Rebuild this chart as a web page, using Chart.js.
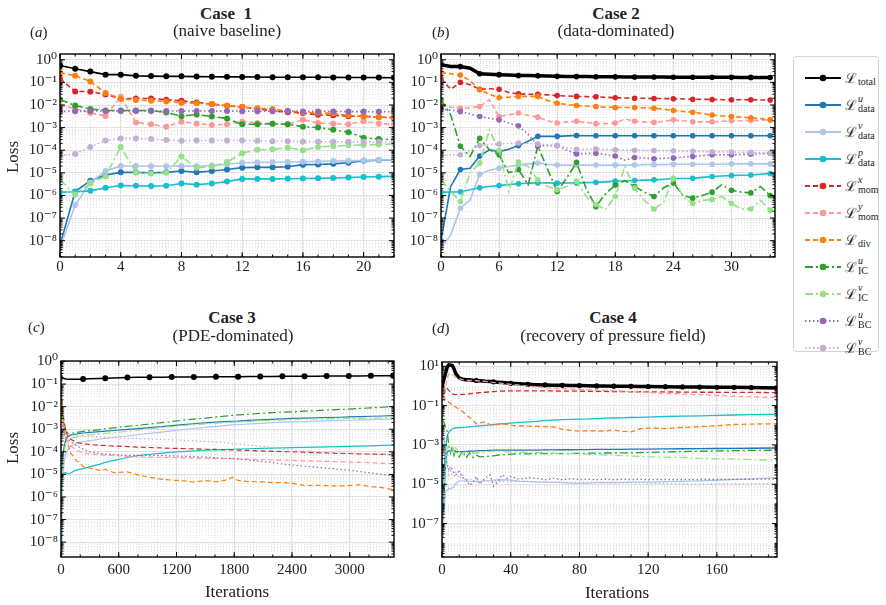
<!DOCTYPE html>
<html>
<head>
<meta charset="utf-8">
<script src="https://cdn.jsdelivr.net/npm/chart.js@4.4.1/dist/chart.umd.min.js"></script>
<style>
body{margin:0;background:#fff;font-family:"Liberation Serif","DejaVu Serif",serif;color:#222}
#wrap{position:relative;width:886px;height:605px;overflow:hidden}
canvas{position:absolute}
.t{position:absolute;white-space:nowrap;transform:translate(-50%,-50%);font-size:17px}
.b{font-weight:bold}
.pl{position:absolute;white-space:nowrap;transform:translateY(-50%);font-size:15px}
.yl{position:absolute;white-space:nowrap;font-size:17px;transform:translate(-50%,-50%) rotate(-90deg)}
#legend{position:absolute;left:793px;top:56px;width:86px;height:296px;border:1px solid #d4d4d4;border-radius:4px;box-sizing:border-box}
.row{position:absolute;left:0;height:26px;width:86px}
.row svg{position:absolute;left:10px;top:7px}
.row .lb{position:absolute;left:51px;top:2px;white-space:nowrap}
.L{font-family:"DejaVu Serif",serif;font-size:14px;vertical-align:middle}
.ss{display:inline-block;vertical-align:middle;font-size:10px;line-height:10px;margin-left:1px}
.ss i,.ss span{display:block}
</style>
</head>
<body>
<div id="wrap">
  <canvas id="ca" width="400" height="245" style="left:0;top:40px"></canvas>
  <canvas id="cb" width="385" height="245" style="left:400px;top:40px"></canvas>
  <canvas id="cc" width="400" height="250" style="left:0;top:340px"></canvas>
  <canvas id="cd" width="385" height="250" style="left:400px;top:340px"></canvas>

  <div class="t b" style="left:226px;top:14px">Case&nbsp; 1</div>
  <div class="t" style="left:227px;top:31px">(naive baseline)</div>
  <div class="pl" style="left:30px;top:32px">(<i>a</i>)</div>

  <div class="t b" style="left:616px;top:14px">Case 2</div>
  <div class="t" style="left:616px;top:31px">(data-dominated)</div>
  <div class="pl" style="left:432px;top:32px">(<i>b</i>)</div>

  <div class="t b" style="left:232px;top:318px">Case 3</div>
  <div class="t" style="left:233px;top:336px">(PDE-dominated)</div>
  <div class="pl" style="left:28px;top:327px">(<i>c</i>)</div>

  <div class="t b" style="left:613px;top:318px">Case 4</div>
  <div class="t" style="left:613px;top:336px">(recovery of pressure field)</div>
  <div class="pl" style="left:432px;top:328px">(<i>d</i>)</div>

  <div class="yl" style="left:13px;top:157px">Loss</div>
  <div class="yl" style="left:13px;top:448px">Loss</div>
  <div class="t" style="left:237px;top:592px">Iterations</div>
  <div class="t" style="left:617px;top:593px">Iterations</div>

  <div id="legend"></div>
</div>
<script>
// series keys, in plotting order
const keys = ['total','u_data','v_data','p_data','x_mom','y_mom','div','u_ic','v_ic','u_bc','v_bc']
const legendSup = ['', 'u', 'v', 'p', 'x', 'y', '', 'u', 'v', 'u', 'v']
const legendSub = ['total','data','data','data','mom','mom','div','IC','IC','BC','BC']
const colors = ['#000000','#1f77b4','#aec7e8','#17becf','#d62728','#ff9896','#ff7f0e','#2ca02c','#98df8a','#9467bd','#c5b0d5']
const dashes = [[],[],[],[],[5,3],[5,3],[5,3],[8,3,2,3],[8,3,2,3],[1.5,2.5],[1.5,2.5]]

/* Case 1 */
const a_iter = [0,1,2,3,4,5,6,7,8,9,10,11,12,13,14,15,16,17,18,19,20,21,22]
const a_total = [0.56,0.40,0.30,0.22,0.22,0.195,0.19,0.185,0.185,0.18,0.178,0.176,0.175,0.172,0.17,0.17,0.168,0.168,0.166,0.165,0.165,0.163,0.16]
const a_u_data = [6.5e-9,1.5e-6,4.5e-6,8e-6,1.05e-5,1.05e-5,1.0e-5,1.05e-5,1.2e-5,1.05e-5,1.2e-5,1.4e-5,1.7e-5,1.75e-5,1.75e-5,1.85e-5,2.3e-5,2.35e-5,2.5e-5,2.8e-5,3.4e-5,3.6e-5,3.8e-5]
const a_v_data = [4.7e-9,3.8e-7,3.7e-6,1.2e-5,2.0e-5,2.0e-5,1.95e-5,1.95e-5,2.0e-5,1.95e-5,2.1e-5,2.4e-5,2.8e-5,2.9e-5,2.95e-5,3.0e-5,3.1e-5,3.2e-5,3.3e-5,3.4e-5,3.5e-5,3.7e-5,3.8e-5]
const a_p_data = [1.4e-6,1.45e-6,1.6e-6,2.2e-6,2.75e-6,2.7e-6,2.6e-6,2.7e-6,3.4e-6,3.0e-6,3.4e-6,4.1e-6,5.4e-6,5.4e-6,5.4e-6,5.5e-6,5.6e-6,5.7e-6,5.9e-6,6.2e-6,6.6e-6,6.8e-6,7.0e-6]
const a_x_mom = [0.145,0.04,0.039,0.029,0.0195,0.0195,0.0195,0.017,0.0154,0.013,0.011,0.0093,0.0081,0.0068,0.0055,0.0048,0.0044,0.0037,0.0035,0.0032,0.0032,0.0029,0.0027]
const a_y_mom = [0.0093,0.0072,0.0044,0.0033,0.023,0.0017,0.0014,0.0011,0.0018,0.0015,0.0013,0.0014,0.0018,0.0016,0.0015,0.0014,0.0022,0.0016,0.0015,0.0014,0.0019,0.0015,0.0014]
const a_div = [0.27,0.195,0.11,0.034,0.019,0.0165,0.0154,0.0144,0.0125,0.012,0.011,0.0093,0.0081,0.0072,0.0066,0.0055,0.0048,0.0045,0.0042,0.0035,0.0031,0.0029,0.0028]
const a_u_ic = [0.017,0.0095,0.0066,0.0057,0.0057,0.0057,0.0057,0.0047,0.0032,0.0038,0.0031,0.0025,0.0014,0.0014,0.0015,0.0014,0.0011,0.001,0.0008,0.00063,0.00036,0.00031,0.00029]
const a_v_ic = [4.9e-6,1.1e-6,3.4e-6,6.9e-6,1.4e-4,1.07e-5,9.3e-6,1.0e-5,5.3e-5,1.7e-5,1.9e-5,3.0e-5,7.4e-5,1.05e-4,1.1e-4,1.3e-4,1.0e-4,1.4e-4,1.5e-4,1.65e-4,1.7e-4,1.8e-4,1.9e-4]
const a_u_bc = [0.0052,0.0053,0.0054,0.0054,0.0054,0.0054,0.0054,0.0054,0.0054,0.0054,0.0054,0.0054,0.0053,0.0053,0.0053,0.0053,0.0052,0.0052,0.0052,0.0051,0.0051,0.005,0.005]
const a_v_bc = [5.9e-5,6.9e-5,1.4e-4,2.7e-4,3.3e-4,3.3e-4,3.1e-4,2.8e-4,2.6e-4,2.7e-4,2.7e-4,2.7e-4,2.7e-4,2.6e-4,2.5e-4,2.5e-4,2.4e-4,2.4e-4,2.35e-4,2.35e-4,2.35e-4,2.35e-4,2.3e-4]

/* Case 2 */
const b_iter = [0,1,2,3,4,5,6,7,8,9,10,11,12,13,14,15,16,17,18,19,20,21,22,23,24,25,26,27,28,29,30,31,32,33,34]
const b_total = [0.6,0.5,0.5,0.42,0.24,0.23,0.22,0.21,0.2,0.2,0.195,0.19,0.185,0.183,0.18,0.18,0.178,0.177,0.176,0.175,0.174,0.173,0.172,0.171,0.17,0.17,0.169,0.168,0.168,0.167,0.167,0.166,0.166,0.165,0.165]
const b_u_data = [1e-8,2.5e-6,1.4e-5,1.6e-5,5.6e-5,1.05e-4,8.7e-5,1.1e-4,1.6e-4,2.5e-4,4.1e-4,4.1e-4,4.1e-4,4.3e-4,4.5e-4,4.4e-4,4.4e-4,4.4e-4,4.4e-4,4.4e-4,4.4e-4,4.4e-4,4.4e-4,4.4e-4,4.4e-4,4.4e-4,4.4e-4,4.4e-4,4.4e-4,4.4e-4,4.4e-4,4.4e-4,4.4e-4,4.4e-4,4.4e-4]
const b_v_data = [4.7e-9,1.8e-8,2.7e-7,6.3e-7,8.7e-6,1.3e-5,1.6e-5,1.9e-5,2.2e-5,2.5e-5,2.7e-5,2.4e-5,2.2e-5,2.2e-5,2.2e-5,2.2e-5,2.2e-5,2.2e-5,2.2e-5,2.2e-5,2.2e-5,2.3e-5,2.3e-5,2.3e-5,2.4e-5,2.4e-5,2.4e-5,2.4e-5,2.4e-5,2.4e-5,2.5e-5,2.5e-5,2.5e-5,2.5e-5,2.5e-5]
const b_p_data = [1.4e-6,1.4e-6,1.45e-6,1.8e-6,2.2e-6,2.5e-6,2.75e-6,3e-6,3.3e-6,3.5e-6,3.6e-6,3.6e-6,3.5e-6,3.55e-6,3.6e-6,3.7e-6,3.8e-6,4e-6,4.3e-6,4.45e-6,4.6e-6,4.75e-6,4.9e-6,5.2e-6,5.6e-6,5.6e-6,5.7e-6,6.3e-6,6.9e-6,7.3e-6,7.6e-6,7.8e-6,8e-6,8.7e-6,9.3e-6]
const b_x_mom = [0.145,0.05,0.1,0.078,0.05,0.052,0.05,0.036,0.031,0.03,0.03,0.028,0.026,0.025,0.024,0.0235,0.023,0.022,0.021,0.0205,0.02,0.0198,0.0195,0.0192,0.019,0.0185,0.018,0.0178,0.0175,0.0172,0.017,0.017,0.017,0.0167,0.0165]
const b_y_mom = [0.0093,0.008,0.0072,0.0075,0.0086,0.017,0.0031,0.0037,0.0044,0.0035,0.0029,0.002,0.0016,0.0018,0.0019,0.0017,0.0015,0.0015,0.0016,0.0024,0.0019,0.0018,0.0017,0.0019,0.0022,0.002,0.0018,0.0018,0.0018,0.0019,0.002,0.002,0.0021,0.0021,0.0022]
const b_div = [0.27,0.24,0.21,0.12,0.047,0.03,0.021,0.022,0.024,0.024,0.024,0.016,0.012,0.0105,0.0095,0.009,0.0086,0.008,0.0078,0.0078,0.0078,0.0075,0.0072,0.0065,0.0057,0.0052,0.0048,0.0042,0.0036,0.0033,0.0031,0.0029,0.0027,0.0025,0.0022]
const b_u_ic = [0.017,0.0037,1.5e-4,5.3e-5,3.4e-4,1.05e-4,6.3e-5,1e-5,1.4e-5,3e-6,1.5e-4,1.5e-5,1.5e-6,6e-6,2.9e-5,2e-6,3.2e-7,1.2e-6,2.9e-6,4.5e-6,2.5e-6,1.4e-6,9e-7,2.2e-6,3.6e-6,1e-6,7.6e-7,1e-6,1.4e-6,3e-6,1.7e-6,1.4e-6,1.3e-6,2.5e-6,1e-6]
const b_v_ic = [4.9e-6,1.5e-6,5.4e-7,1e-5,2.7e-5,7.9e-4,1e-4,1.5e-6,3e-5,1.9e-5,4.9e-6,2.5e-6,1.8e-6,2.5e-6,4.3e-6,9e-7,4e-7,2.4e-7,9e-7,1.9e-5,2.1e-6,6e-7,2.5e-7,5e-7,5.6e-6,9e-7,4.4e-7,6e-7,6.6e-7,9e-7,4.4e-7,2.5e-7,2.5e-7,6e-7,2.2e-7]
const b_u_bc = [0.0066,0.006,0.0052,0.004,0.0031,0.0026,0.0022,0.0016,0.0012,0.0005,1.6e-4,1.6e-4,1.6e-4,1.0e-4,6.9e-5,7.2e-5,7.4e-5,6.5e-5,5.6e-5,3.6e-5,4.8e-5,4.5e-5,4.2e-5,4.4e-5,4.5e-5,5e-5,5.3e-5,5.8e-5,6.3e-5,6.3e-5,6.3e-5,6.5e-5,6.7e-5,7e-5,7.4e-5]
const b_v_bc = [5.9e-5,6e-5,6.3e-5,1e-4,1.6e-4,1.8e-4,1.9e-4,2e-4,2.1e-4,2e-4,1.9e-4,1.75e-4,1.6e-4,1.3e-4,1.1e-4,1.12e-4,1.15e-4,1.1e-4,1.05e-4,1.02e-4,1e-4,9.8e-5,9.7e-5,9.6e-5,9.5e-5,9.2e-5,9e-5,8.8e-5,8.6e-5,8.4e-5,8.3e-5,8.1e-5,8e-5,7.7e-5,7.4e-5]

/* Case 3 */
const c_iter = [0,5,10,20,30,50,75,100,150,200,230,300,400,460,550,690,800,920,1050,1150,1300,1380,1500,1610,1700,1780,1840,1950,2070,2200,2300,2400,2530,2650,2760,2900,2990,3100,3220,3335,3450]
const c_total = [0.25,0.22,0.2,0.185,0.175,0.168,0.165,0.164,0.164,0.165,0.167,0.17,0.176,0.18,0.186,0.195,0.198,0.2,0.202,0.204,0.206,0.207,0.208,0.21,0.211,0.212,0.213,0.214,0.216,0.218,0.219,0.22,0.222,0.224,0.225,0.227,0.228,0.23,0.231,0.232,0.234]
const c_u_data = [5e-9,1e-6,1e-5,6e-5,1.5e-4,3.5e-4,4.8e-4,5.5e-4,6e-4,6.5e-4,6.8e-4,7.2e-4,7.8e-4,8.2e-4,8.8e-4,9.8e-4,1.07e-3,1.17e-3,1.3e-3,1.45e-3,1.65e-3,1.75e-3,1.9e-3,2.05e-3,2.15e-3,2.25e-3,2.3e-3,2.45e-3,2.6e-3,2.75e-3,2.85e-3,3e-3,3.1e-3,3.2e-3,3.3e-3,3.4e-3,3.5e-3,3.6e-3,3.75e-3,3.85e-3,4e-3]
const c_v_data = [3e-9,5e-8,1e-6,1e-5,3e-5,8e-5,1.3e-4,1.8e-4,2.3e-4,2.6e-4,2.8e-4,3.1e-4,3.6e-4,3.9e-4,4.3e-4,5e-4,5.7e-4,6.5e-4,7.5e-4,8.5e-4,1e-3,1.08e-3,1.2e-3,1.35e-3,1.45e-3,1.55e-3,1.6e-3,1.7e-3,1.8e-3,1.95e-3,2.05e-3,2.1e-3,2.2e-3,2.3e-3,2.4e-3,2.45e-3,2.5e-3,2.6e-3,2.65e-3,2.7e-3,2.8e-3]
const c_p_data = [2.4e-6,5e-6,8e-6,1.1e-5,1.15e-5,1.2e-5,1.05e-5,1.15e-5,1.5e-5,1.7e-5,1.8e-5,2.2e-5,2.8e-5,3.4e-5,4.2e-5,5.6e-5,6.8e-5,7.8e-5,8.8e-5,9.6e-5,1.05e-4,1.1e-4,1.17e-4,1.22e-4,1.26e-4,1.3e-4,1.33e-4,1.37e-4,1.42e-4,1.47e-4,1.5e-4,1.52e-4,1.56e-4,1.6e-4,1.64e-4,1.7e-4,1.75e-4,1.8e-4,1.85e-4,1.92e-4,2e-4]
const c_x_mom = [0.1,0.05,0.02,6e-3,2.5e-3,8e-4,4.7e-4,3.6e-4,2.8e-4,2.4e-4,2.3e-4,2.1e-4,1.95e-4,1.9e-4,1.8e-4,1.7e-4,1.62e-4,1.55e-4,1.48e-4,1.43e-4,1.38e-4,1.35e-4,1.3e-4,1.27e-4,1.24e-4,1.22e-4,1.2e-4,1.15e-4,1.1e-4,1.05e-4,1.02e-4,1e-4,9.6e-5,9.2e-5,8.9e-5,8.5e-5,8.4e-5,8.1e-5,7.9e-5,7.7e-5,7.5e-5]
const c_y_mom = [0.02,0.01,5e-3,2e-3,8e-4,3.5e-4,2.5e-4,1.8e-4,1.3e-4,1e-4,9e-5,8e-5,7.5e-5,7.2e-5,6.8e-5,6.3e-5,6e-5,5.8e-5,5.7e-5,5.6e-5,5.4e-5,5.3e-5,5.2e-5,5.1e-5,5e-5,4.9e-5,4.8e-5,4.7e-5,4.5e-5,4.4e-5,4.3e-5,4.2e-5,4e-5,3.9e-5,3.8e-5,3.6e-5,3.5e-5,3.4e-5,3.3e-5,3.1e-5,3e-5]
const c_div = [0.3,0.05,0.01,2.5e-3,1e-3,4e-4,2e-4,9e-5,4.5e-5,3e-5,2.2e-5,1.9e-5,1.5e-5,1.65e-5,1.2e-5,1.3e-5,9.5e-6,7.5e-6,6e-6,5.6e-6,5e-6,4.6e-6,5.3e-6,4.7e-6,5.4e-6,7.5e-6,5.4e-6,4.8e-6,4.7e-6,4.3e-6,4.4e-6,4.1e-6,3.2e-6,3.3e-6,3.2e-6,3.1e-6,3.2e-6,3.5e-6,2.9e-6,2.6e-6,2.1e-6]
const c_u_ic = [0.03,0.02,0.01,0.004,0.002,8e-4,6.5e-4,6.5e-4,7e-4,7.7e-4,8e-4,8.7e-4,9.6e-4,1.05e-3,1.15e-3,1.35e-3,1.5e-3,1.7e-3,1.95e-3,2.2e-3,2.6e-3,2.8e-3,3.1e-3,3.5e-3,3.8e-3,4.1e-3,4.3e-3,4.6e-3,5e-3,5.4e-3,5.7e-3,5.9e-3,6.3e-3,6.7e-3,7.1e-3,7.5e-3,7.8e-3,8.3e-3,8.8e-3,9.4e-3,1e-2]
const c_v_ic = [3e-8,5e-7,3e-6,2e-5,8e-5,2.3e-4,3.5e-4,4e-4,4.5e-4,5e-4,5.3e-4,5.6e-4,6.2e-4,6.5e-4,7e-4,8e-4,9.3e-4,1.05e-3,1.2e-3,1.3e-3,1.5e-3,1.6e-3,1.72e-3,1.85e-3,1.95e-3,2.05e-3,2.1e-3,2.2e-3,2.35e-3,2.5e-3,2.6e-3,2.7e-3,2.8e-3,2.85e-3,2.9e-3,3e-3,3e-3,3.05e-3,3.1e-3,3.15e-3,3.2e-3]
const c_u_bc = [5e-3,3e-3,2e-3,1.2e-3,8e-4,5e-4,3.5e-4,2.8e-4,2e-4,1.5e-4,1.3e-4,1e-4,8.5e-5,8e-5,7.5e-5,7e-5,7e-5,7e-5,6.8e-5,6.6e-5,6.3e-5,6.1e-5,5.8e-5,5.5e-5,5.2e-5,5e-5,4.8e-5,4.3e-5,3.8e-5,3.3e-5,2.9e-5,2.6e-5,2.3e-5,2.1e-5,1.9e-5,1.65e-5,1.55e-5,1.35e-5,1.15e-5,1e-5,8.7e-6]
const c_v_bc = [1e-3,1.2e-3,1.3e-3,1.2e-3,1e-3,8e-4,6.5e-4,6e-4,5.5e-4,5e-4,4.9e-4,4.7e-4,4.5e-4,4.4e-4,4.2e-4,4e-4,3.9e-4,3.7e-4,3.5e-4,3.4e-4,3.2e-4,3.1e-4,2.9e-4,2.7e-4,2.5e-4,2.3e-4,2.2e-4,2e-4,1.8e-4,1.55e-4,1.35e-4,1.2e-4,1.1e-4,1e-4,9.5e-5,9e-5,8.8e-5,8.4e-5,8e-5,7.8e-5,7.6e-5]

/* Case 4 */
const d_iter = [0,1,2,3,4,5,6,7,8,10,12,14,16,18,20,22,25,28,30,32,35,38,40,45,50,55,60,65,70,75,80,85,90,95,100,105,110,115,120,130,140,150,160,170,180,195]
const d_total = [0.9,2,4.2,9,12,11.5,11,7.6,4.2,2.6,2.2,2.1,2.05,1.95,1.9,1.85,1.75,1.68,1.62,1.57,1.5,1.42,1.38,1.3,1.22,1.17,1.13,1.1,1.08,1.06,1.05,1.03,1.01,1.0,0.98,0.97,0.96,0.95,0.94,0.92,0.9,0.88,0.86,0.85,0.83,0.8]
const d_u_data = [6e-9,8e-7,1e-4,4.4e-4,5e-4,5.2e-4,5.2e-4,5e-4,4.8e-4,4.6e-4,4.6e-4,4.7e-4,4.8e-4,4.9e-4,5e-4,5.1e-4,5.2e-4,5.3e-4,5.4e-4,5.4e-4,5.4e-4,5.4e-4,5.4e-4,5.5e-4,5.5e-4,5.5e-4,5.6e-4,5.6e-4,5.7e-4,5.7e-4,5.8e-4,5.8e-4,5.9e-4,5.9e-4,6e-4,6e-4,6.1e-4,6.1e-4,6.2e-4,6.3e-4,6.4e-4,6.5e-4,6.6e-4,6.7e-4,6.8e-4,7e-4]
const d_v_data = [5e-9,2.2e-7,3.4e-6,5e-6,6e-6,6e-6,6.5e-6,8e-6,1.1e-5,1.5e-5,1.5e-5,1.45e-5,1.4e-5,1.4e-5,1.35e-5,1.4e-5,1.5e-5,1.55e-5,1.6e-5,1.65e-5,1.7e-5,1.65e-5,1.6e-5,1.45e-5,1.35e-5,1.3e-5,1.3e-5,1.25e-5,1.2e-5,1.15e-5,1.1e-5,1.15e-5,1.2e-5,1.25e-5,1.2e-5,1.25e-5,1.3e-5,1.3e-5,1.3e-5,1.35e-5,1.4e-5,1.5e-5,1.6e-5,1.75e-5,1.9e-5,2.2e-5]
const d_p_data = [1.6e-6,5e-5,5e-4,3e-3,4.5e-3,5.5e-3,6.5e-3,7e-3,7.5e-3,7.6e-3,7.8e-3,8e-3,8.3e-3,8.6e-3,9e-3,9.4e-3,1e-2,1.05e-2,1.1e-2,1.15e-2,1.2e-2,1.25e-2,1.3e-2,1.4e-2,1.5e-2,1.6e-2,1.75e-2,1.85e-2,1.95e-2,2e-2,2.05e-2,2.1e-2,2.2e-2,2.3e-2,2.35e-2,2.4e-2,2.5e-2,2.55e-2,2.6e-2,2.8e-2,2.9e-2,3e-2,3.2e-2,3.35e-2,3.5e-2,3.6e-2]
const d_x_mom = [0.35,0.4,0.6,0.75,0.6,0.45,0.4,0.37,0.36,0.36,0.37,0.38,0.4,0.42,0.44,0.46,0.48,0.5,0.52,0.53,0.55,0.56,0.56,0.57,0.57,0.57,0.56,0.56,0.55,0.55,0.54,0.54,0.53,0.53,0.52,0.52,0.51,0.51,0.5,0.5,0.49,0.48,0.48,0.47,0.47,0.46]
const d_y_mom = [0.01,0.1,0.6,2.5,4,4.5,4,3.2,2.8,2.3,2.1,2.0,1.95,1.9,1.85,1.8,1.7,1.6,1.5,1.45,1.35,1.28,1.22,1.1,0.98,0.88,0.82,0.77,0.73,0.7,0.67,0.64,0.62,0.6,0.57,0.55,0.52,0.5,0.47,0.42,0.39,0.36,0.33,0.3,0.28,0.26]
const d_div = [0.3,0.25,0.2,0.18,0.15,0.13,0.11,0.095,0.085,0.065,0.05,0.035,0.025,0.018,0.012,0.013,0.015,0.011,0.01,0.011,0.012,0.011,0.01,0.0095,0.009,0.0088,0.0085,0.0082,0.0062,0.0055,0.0051,0.0053,0.0052,0.0051,0.0058,0.005,0.0046,0.0065,0.0072,0.0068,0.0078,0.0085,0.0095,0.011,0.0115,0.012]
const d_u_ic = [0.018,0.015,0.008,0.005,9e-4,4e-4,9e-4,3e-4,6e-4,2.5e-4,5e-4,2.2e-4,4e-4,2.3e-4,3e-4,2.5e-4,2.6e-4,2.7e-4,2.8e-4,3e-4,3.2e-4,3.3e-4,3.4e-4,3.5e-4,3.5e-4,3.6e-4,3.6e-4,3.6e-4,3.6e-4,3.7e-4,3.7e-4,3.8e-4,3.8e-4,3.9e-4,3.9e-4,4e-4,4e-4,4.1e-4,4.2e-4,4.4e-4,4.6e-4,4.8e-4,5e-4,5.1e-4,5.3e-4,5.4e-4]
const d_v_ic = [5e-6,3e-6,5e-5,8e-4,9e-4,5e-4,8e-4,4e-4,7e-4,4.5e-4,3.5e-4,5e-4,3.5e-4,4e-4,3.8e-4,4.2e-4,4.5e-4,4.7e-4,4.8e-4,4.8e-4,4.6e-4,4.5e-4,4.4e-4,4.3e-4,4.2e-4,4.1e-4,4e-4,3.9e-4,3.7e-4,3.6e-4,3.5e-4,3.3e-4,3.2e-4,3.1e-4,3e-4,2.9e-4,2.7e-4,2.6e-4,2.5e-4,2.4e-4,2.3e-4,2.1e-4,2e-4,1.9e-4,1.8e-4,1.7e-4]
const d_u_bc = [1e-2,3e-3,5e-4,1e-4,5e-5,8e-5,6e-5,3.5e-5,3e-5,4.5e-5,2.2e-5,1.8e-5,9e-6,1.2e-5,2.5e-5,1e-5,2e-5,3e-5,8e-6,1.2e-5,3e-5,2e-5,2.5e-5,1.8e-5,2.2e-5,2e-5,1.7e-5,2e-5,1.7e-5,1.9e-5,1.7e-5,1.8e-5,1.7e-5,1.8e-5,1.7e-5,1.8e-5,1.7e-5,1.8e-5,1.7e-5,1.75e-5,1.7e-5,1.75e-5,1.75e-5,1.8e-5,1.8e-5,1.85e-5]
const d_v_bc = [5e-3,1.5e-3,3e-4,8e-5,3e-5,5e-5,3e-5,2.5e-5,4e-5,2e-5,3e-5,1.5e-5,2e-5,1.4e-5,1.8e-5,1.3e-5,1.6e-5,1.4e-5,1.5e-5,1.3e-5,1.4e-5,1.3e-5,1.4e-5,1.35e-5,1.4e-5,1.35e-5,1.3e-5,1.3e-5,1.3e-5,1.25e-5,1.25e-5,1.3e-5,1.25e-5,1.2e-5,1.25e-5,1.2e-5,1.2e-5,1.2e-5,1.15e-5,1.1e-5,1.05e-5,1.0e-5,1.05e-5,1.05e-5,1.07e-5,1.07e-5]

const supMap = {'-':'\u207B','0':'\u2070','1':'\u00B9','2':'\u00B2','3':'\u00B3','4':'\u2074','5':'\u2075','6':'\u2076','7':'\u2077','8':'\u2078','9':'\u2079'}
function powLabel(v){
    const e = Math.round(Math.log10(v))
    return '10' + String(e).split('').map(c => supMap[c]).join('')
}

function range(a, b, step){
    let arr = []
    for (let v = a; v <= b + 1e-9; v += step) arr.push(v)
    return arr
}

/* dotted minor grid, black frame and inward ticks */
const framePlugin = {
    id: 'frame',
    beforeDatasetsDraw(chart, args, o){
        const {ctx, chartArea: a, scales: {x, y}} = chart
        ctx.save()
        ctx.beginPath()
        ctx.rect(a.left, a.top, a.right - a.left, a.bottom - a.top)
        ctx.clip()
        ctx.strokeStyle = '#dcdcdc'
        ctx.lineWidth = 0.7
        ctx.setLineDash([1, 2])
        o.xMinor.forEach(v => {
            const px = Math.round(x.getPixelForValue(v)) + 0.5
            ctx.beginPath(); ctx.moveTo(px, a.top); ctx.lineTo(px, a.bottom); ctx.stroke()
        })
        o.yMinor.forEach(v => {
            const py = Math.round(y.getPixelForValue(v)) + 0.5
            ctx.beginPath(); ctx.moveTo(a.left, py); ctx.lineTo(a.right, py); ctx.stroke()
        })
        ctx.restore()
    },
    afterDraw(chart, args, o){
        const {ctx, chartArea: a, scales: {x, y}} = chart
        ctx.save()
        ctx.strokeStyle = '#000'
        ctx.lineWidth = 1
        const tick = (x1, y1, x2, y2) => { ctx.beginPath(); ctx.moveTo(x1, y1); ctx.lineTo(x2, y2); ctx.stroke() }
        o.xMinor.forEach(v => {
            const px = x.getPixelForValue(v)
            tick(px, a.bottom, px, a.bottom - 2.5); tick(px, a.top, px, a.top + 2.5)
        })
        o.xMajor.forEach(v => {
            const px = x.getPixelForValue(v)
            tick(px, a.bottom, px, a.bottom - 5); tick(px, a.top, px, a.top + 5)
        })
        o.yMinor.forEach(v => {
            const py = y.getPixelForValue(v)
            if (py < a.top || py > a.bottom) return
            tick(a.left, py, a.left + 2.5, py); tick(a.right, py, a.right - 2.5, py)
        })
        o.yMajor.forEach(e => {
            const py = y.getPixelForValue(Math.pow(10, e))
            tick(a.left, py, a.left + 5, py); tick(a.right, py, a.right - 5, py)
        })
        ctx.lineWidth = 1.4
        ctx.strokeRect(a.left, a.top, a.right - a.left, a.bottom - a.top)
        ctx.restore()
    }
}

function buildChart(id, xs, rows, o){
    const datasets = keys.map((k, i) => ({
        label: k,
        data: rows[i].map((v, j) => ({x: xs[j], y: v})),
        borderColor: colors[i],
        backgroundColor: colors[i],
        borderWidth: i === 0 ? o.totalWidth : o.width,
        borderDash: dashes[i],
        pointRadius: c => (c.raw ? o.radius(i, c.raw.x) : 0),
        pointBorderWidth: 0,
        pointHoverRadius: 0,
        tension: 0,
        order: keys.length - i
    }))
    const yMinor = []
    for (let e = -10; e <= 2; e++) {
        if (o.yMinorDecades && !o.yMajor.includes(e)) yMinor.push(Math.pow(10, e))
        for (let m = 2; m <= 9; m++) yMinor.push(m * Math.pow(10, e))
    }
    const font = {family: '"Liberation Serif","DejaVu Serif",serif', size: 15}
    new Chart(document.getElementById(id), {
        type: 'line',
        data: {datasets},
        plugins: [framePlugin],
        options: {
            responsive: false,
            animation: false,
            events: [],
            layout: {padding: {top: o.padTop, right: o.padRight, left: 0, bottom: 0}},
            plugins: {
                legend: {display: false},
                tooltip: {enabled: false},
                frame: {xMinor: range(0, o.xMax, o.xMinorStep), xMajor: o.xTicks, yMinor: yMinor, yMajor: o.yMajor}
            },
            scales: {
                x: {
                    type: 'linear', min: 0, max: o.xMax,
                    grid: {color: '#e2e2e2', lineWidth: 1, drawTicks: false},
                    border: {display: false},
                    ticks: {font, color: '#222', padding: o.xPad, maxRotation: 0, callback: v => String(v)},
                    afterBuildTicks: s => { s.ticks = o.xTicks.map(v => ({value: v})) },
                    afterFit: s => { s.height = o.xH }
                },
                y: {
                    type: 'logarithmic', min: o.yMin, max: o.yMax,
                    grid: {color: '#e2e2e2', lineWidth: 1, drawTicks: false},
                    border: {display: false},
                    ticks: {font, color: '#222', padding: 3, callback: v => powLabel(v)},
                    afterBuildTicks: s => { s.ticks = o.yMajor.map(e => ({value: Math.pow(10, e)})) },
                    afterFit: s => { s.width = o.yW }
                }
            }
        }
    })
}

buildChart('ca', a_iter,
    [a_total,a_u_data,a_v_data,a_p_data,a_x_mom,a_y_mom,a_div,a_u_ic,a_v_ic,a_u_bc,a_v_bc],
    {xMax: 22, xTicks: [0,4,8,12,16,20], xMinorStep: 1, yMin: 1.9e-9, yMax: 1.8,
     yMajor: [0,-1,-2,-3,-4,-5,-6,-7,-8], yW: 60, xH: 28, padTop: 14, padRight: 6, xPad: 1,
     width: 1.6, totalWidth: 1.6, radius: () => 3})

buildChart('cb', b_iter,
    [b_total,b_u_data,b_v_data,b_p_data,b_x_mom,b_y_mom,b_div,b_u_ic,b_v_ic,b_u_bc,b_v_bc],
    {xMax: 34.5, xTicks: [0,6,12,18,24,30], xMinorStep: 2, yMin: 1.9e-9, yMax: 1.8,
     yMajor: [0,-1,-2,-3,-4,-5,-6,-7,-8], yW: 41, xH: 28, padTop: 14, padRight: 10, xPad: 1,
     width: 1.6, totalWidth: 3.5, radius: (i, x) => (x % 2 === 0 ? 2.8 : 0)})

buildChart('cc', c_iter,
    [c_total,c_u_data,c_v_data,c_p_data,c_x_mom,c_y_mom,c_div,c_u_ic,c_v_ic,c_u_bc,c_v_bc],
    {xMax: 3460, xTicks: [0,600,1200,1800,2400,3000], xMinorStep: 200, yMin: 2.2e-9, yMax: 1.05,
     yMajor: [0,-1,-2,-3,-4,-5,-6,-7,-8], yW: 61, xH: 33, padTop: 21, padRight: 6, xPad: 4,
     width: 1.2, totalWidth: 1.5, radius: (i, x) => (i === 0 && x > 0 && x % 230 === 0 ? 3 : 0)})

buildChart('cd', d_iter,
    [d_total,d_u_data,d_v_data,d_p_data,d_x_mom,d_y_mom,d_div,d_u_ic,d_v_ic,d_u_bc,d_v_bc],
    {xMax: 195, xTicks: [0,40,80,120,160], xMinorStep: 10, yMin: 2e-9, yMax: 16.6,
     yMajor: [1,-1,-3,-5,-7], yMinorDecades: true, yW: 42, xH: 33, padTop: 22, padRight: 8, xPad: 4,
     width: 1.3, totalWidth: 3.5, radius: (i, x) => (i === 0 && x >= 20 && x % 10 === 0 ? 2.6 : 0)})

/* legend */
const legend = document.getElementById('legend')
keys.forEach((k, i) => {
    const row = document.createElement('div')
    row.className = 'row'
    row.style.top = (8 + i * 27) + 'px'
    const dash = dashes[i].length ? ' stroke-dasharray="' + dashes[i].join(',') + '"' : ''
    row.innerHTML =
        '<svg width="38" height="12"><line x1="1" y1="6" x2="37" y2="6" stroke="' + colors[i] +
        '" stroke-width="1.8"' + dash + '/><circle cx="19" cy="6" r="3.3" fill="' + colors[i] + '"/></svg>' +
        '<span class="lb"><span class="L">\u2112</span><span class="ss"><i>' + (legendSup[i] || '&nbsp;') +
        '</i><span>' + legendSub[i] + '</span></span></span>'
    legend.appendChild(row)
})
</script>
</body>
</html>
